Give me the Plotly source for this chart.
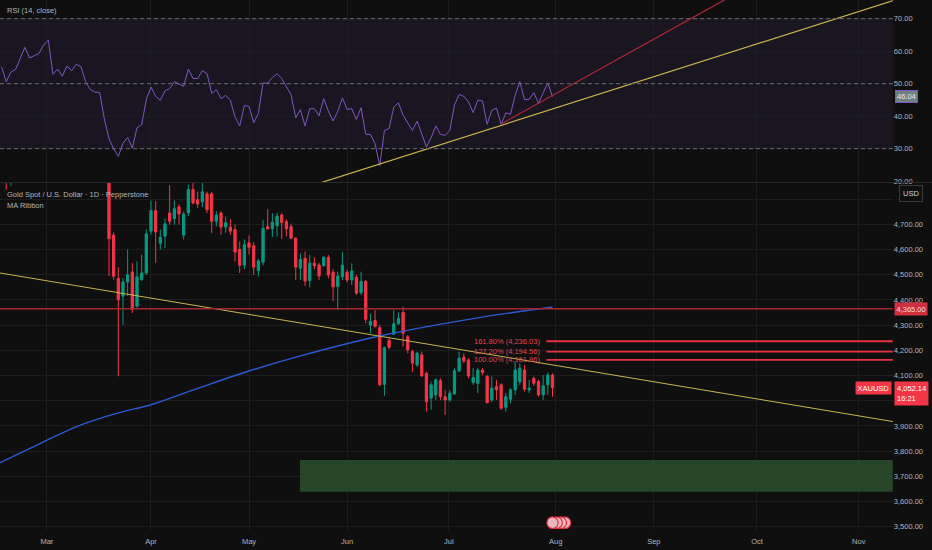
import plotly.graph_objects as go
from plotly.subplots import make_subplots

# bar index of each candle (day number from the left edge of the chart)
bar_idx = [1, 2] + list(range(23, 119))

opens = [4920, 4872,
         4945, 4657, 4485, 4415, 4471, 4511, 4375, 4481, 4507, 4673,
         4754, 4625, 4653, 4745, 4723, 4769, 4657, 4745, 4838, 4798,
         4789, 4821, 4821, 4712, 4745, 4689, 4689, 4679, 4600, 4538,
         4626, 4615, 4516, 4550, 4691, 4682, 4694, 4737, 4711, 4691,
         4645, 4526, 4565, 4477, 4546, 4539, 4536, 4569, 4510, 4453,
         4492, 4510, 4479, 4490, 4429, 4473, 4300, 4318, 4290, 4065,
         4240, 4264, 4305, 4350, 4254, 4195, 4142, 4182, 4109, 4010,
         4023, 4080, 4016, 4003, 4027, 4118, 4173, 4162, 4072, 4069,
         4122, 4096, 4003, 4056, 4063, 3974, 4006, 4043, 4076, 4122,
         4043, 4089, 4076, 4023, 4063, 4102]
highs = [4945, 4930,
         4960, 4668, 4530, 4487, 4600, 4547, 4553, 4580, 4680, 4794,
         4792, 4679, 4723, 4855, 4794, 4780, 4751, 4858, 4868, 4830,
         4868, 4830, 4829, 4752, 4752, 4732, 4721, 4699, 4632, 4640,
         4656, 4630, 4563, 4717, 4760, 4744, 4744, 4744, 4720, 4703,
         4649, 4585, 4592, 4579, 4569, 4548, 4574, 4579, 4522, 4512,
         4590, 4520, 4545, 4500, 4512, 4479, 4345, 4360, 4300, 4215,
         4248, 4360, 4350, 4373, 4261, 4202, 4195, 4195, 4115, 4076,
         4089, 4089, 4043, 4043, 4129, 4195, 4188, 4169, 4129, 4129,
         4129, 4102, 4096, 4083, 4069, 4030, 4050, 4155, 4149, 4142,
         4083, 4096, 4083, 4102, 4112, 4109]
lows = [4838, 4852,
        4495, 4480, 4097, 4302, 4416, 4348, 4370, 4475, 4500, 4659,
        4547, 4600, 4606, 4699, 4699, 4699, 4640, 4733, 4779, 4765,
        4768, 4745, 4665, 4692, 4659, 4666, 4659, 4553, 4507, 4522,
        4581, 4499, 4493, 4537, 4680, 4650, 4652, 4641, 4652, 4641,
        4479, 4479, 4455, 4450, 4522, 4479, 4532, 4486, 4396, 4360,
        4479, 4470, 4460, 4420, 4420, 4307, 4268, 4290, 4058, 4020,
        4205, 4261, 4301, 4215, 4188, 4115, 4135, 4096, 3957, 3964,
        4003, 4003, 3944, 3996, 4023, 4115, 4149, 4089, 4063, 4030,
        4102, 3990, 3996, 4003, 3964, 3957, 3990, 4023, 4063, 4036,
        4030, 4059, 4016, 4003, 4023, 4016]
closes = [4870, 4905,
          4643, 4494, 4401, 4471, 4500, 4362, 4492, 4507, 4662, 4754,
          4670, 4649, 4702, 4712, 4762, 4741, 4741, 4838, 4785, 4781,
          4829, 4758, 4712, 4736, 4689, 4706, 4673, 4590, 4538, 4619,
          4609, 4530, 4555, 4684, 4682, 4709, 4733, 4707, 4682, 4645,
          4530, 4561, 4475, 4546, 4536, 4495, 4569, 4499, 4452, 4495,
          4538, 4479, 4515, 4427, 4473, 4323, 4315, 4295, 4063, 4211,
          4212, 4305, 4327, 4268, 4202, 4149, 4188, 4098, 3996, 4063,
          4083, 4016, 4003, 4030, 4119, 4169, 4158, 4098, 4092, 4122,
          4112, 3992, 4050, 4043, 3970, 4016, 4043, 4122, 4129, 4046,
          4050, 4069, 4023, 4059, 4102, 4052.14]

rsi = [55.2, 50.6, 53.6, 54.4, 57.8, 61.2, 57.9, 58.5, 59.3, 61.9,
       63.4, 52.9, 54.5, 52.3, 55.4, 54.0, 56.0, 55.2, 50.6, 48.2,
       47.4, 47.3, 39.2, 33.1, 30.0, 27.6, 31.7, 33.4, 30.2, 36.4,
       37.4, 45.1, 49.0, 46.1, 44.9, 47.8, 48.5, 50.6, 49.9, 49.2,
       54.5, 51.6, 51.6, 54.0, 53.1, 47.0, 48.2, 45.4, 46.4, 44.9,
       39.8, 37.0, 43.3, 43.0, 38.0, 40.8, 50.2, 50.2, 51.9, 53.1,
       51.6, 49.2, 46.6, 39.5, 42.0, 37.0, 42.3, 42.3, 40.1, 45.4,
       41.6, 38.5, 41.5, 45.6, 42.1, 42.3, 39.0, 42.6, 34.4, 34.4,
       31.5, 24.8, 35.6, 36.2, 42.8, 44.1, 40.3, 37.9, 35.6, 38.5,
       34.6, 30.5, 33.4, 37.0, 34.4, 34.1, 35.6, 43.4, 46.7, 46.1,
       44.4, 41.1, 44.9, 44.7, 37.5, 41.8, 42.5, 37.5, 41.0, 40.6,
       46.4, 50.6, 45.1, 45.2, 47.2, 43.9, 47.2, 50.2, 46.04]

# MA ribbon (long average) read at a few bars
ma_idx = [-1, 8, 17, 25, 32, 42, 52, 64, 81, 102, 118]
ma_val = [3748, 3828, 3904, 3952, 3984, 4049, 4112, 4178, 4257, 4329, 4372]

# drawings
trend_idx = [-1, 192]
trend_px = [4509, 3914]
rsi_yel_idx = [60, 195]
rsi_yel_val = [15.7, 77.4]
rsi_red_idx = [107, 160]
rsi_red_val = [37.6, 79.9]
level_main = 4365.00
fib_start = 116.7
fib_pct = ['161.80%', '127.20%', '100.00%']
fib_lvl = [4236.03, 4194.56, 4161.96]
zone_start = 63.9
zone_lo, zone_hi = 3639, 3765
last_price = 4052.14
last_rsi = 46.04

months = ['Mar', 'Apr', 'May', 'Jun', 'Jul', 'Aug', 'Sep', 'Oct', 'Nov']
month_idx = [9.7, 32.0, 53.0, 74.0, 95.8, 118.7, 139.7, 161.8, 183.6]
price_ticks = list(range(3500, 4900, 100))
rsi_ticks = [20, 30, 40, 50, 60, 70]

X_RANGE = [-0.34, 190.9]
BG = '#0f0f0f'
GRID = '#1d1d1d'
TXT = '#b2b5be'
FONT = 'Liberation Sans'
UP = '#089981'
DOWN = '#f23645'

fig = make_subplots(rows=2, cols=1, shared_xaxes=True, vertical_spacing=0.002)

# RSI panel
fig.add_shape(type='rect', xref='x domain', yref='y', x0=0, x1=1, y0=30, y1=70,
              fillcolor='rgba(126,87,194,0.1)', line_width=0, layer='below')
for lv in [70, 50, 30]:
    fig.add_shape(type='line', xref='x domain', yref='y', x0=0, x1=1, y0=lv, y1=lv,
                  line=dict(color='#6a6d78', width=1, dash='4px,3px'))
fig.add_trace(go.Scatter(x=list(range(len(rsi))), y=rsi, mode='lines',
                         line=dict(color='#7e57c2', width=1)), row=1, col=1)
fig.add_trace(go.Scatter(x=rsi_yel_idx, y=rsi_yel_val, mode='lines',
                         line=dict(color='#c9b34a', width=1.2)), row=1, col=1)
fig.add_trace(go.Scatter(x=rsi_red_idx, y=rsi_red_val, mode='lines',
                         line=dict(color='#b5263a', width=1.2)), row=1, col=1)

# price panel
fig.add_shape(type='rect', xref='x2', yref='y2', x0=zone_start, x1=X_RANGE[1],
              y0=zone_lo, y1=zone_hi, fillcolor='rgba(42,80,44,0.85)', line_width=0,
              layer='between')
fig.add_shape(type='line', xref='x2 domain', yref='y2', x0=0, x1=1,
              y0=level_main, y1=level_main, line=dict(color='#a3282f', width=1.6))
for lv in fib_lvl:
    fig.add_shape(type='line', xref='x2', yref='y2', x0=fib_start, x1=X_RANGE[1],
                  y0=lv, y1=lv, line=dict(color='#e8323f', width=1.8))

fig.add_trace(go.Scatter(x=ma_idx, y=ma_val, mode='lines', line_shape='spline',
                         line=dict(color='#2a5bd7', width=1.4)), row=2, col=1)
fig.add_trace(go.Scatter(x=trend_idx, y=trend_px, mode='lines',
                         line=dict(color='#c9b34a', width=1)), row=2, col=1)
fig.add_trace(go.Candlestick(
    x=bar_idx, open=opens, high=highs, low=lows, close=closes,
    increasing=dict(line=dict(color=UP, width=1), fillcolor=UP),
    decreasing=dict(line=dict(color=DOWN, width=1), fillcolor=DOWN),
    whiskerwidth=0, hoverinfo='skip'), row=2, col=1)

# event icons under the last bar
for cx in [120.7, 119.8, 118.9, 118.0]:
    fig.add_shape(type='circle', xref='x2', yref='y2', x0=cx - 1.2, x1=cx + 1.2,
                  y0=3516 - 23, y1=3516 + 23, fillcolor='#e9b7bd',
                  line=dict(color='#e0303f', width=1.2))

# separator between panes
fig.add_shape(type='line', xref='paper', yref='paper', x0=0, x1=1, y0=0.6556, y1=0.6556,
              line=dict(color='#2a2a2a', width=1))

ann = []
ann.append(dict(text='RSI (14, close)', xref='paper', yref='paper', x=0.005, y=0.981,
                xanchor='left', yanchor='middle', showarrow=False,
                font=dict(size=7.5, color=TXT, family=FONT)))
ann.append(dict(text='Gold Spot / U.S. Dollar · 1D · Pepperstone', xref='paper', yref='paper',
                x=0.005, y=0.633, xanchor='left', yanchor='middle', showarrow=False,
                font=dict(size=7.5, color=TXT, family=FONT)))
ann.append(dict(text='MA Ribbon', xref='paper', yref='paper', x=0.005, y=0.612,
                xanchor='left', yanchor='middle', showarrow=False,
                font=dict(size=7.5, color=TXT, family=FONT)))
for p, lv in zip(fib_pct, fib_lvl):
    ann.append(dict(text=f'{p} ({lv:,.2f})', xref='x2', yref='y2', x=fib_start - 1,
                    y=lv, xanchor='right', yanchor='middle', showarrow=False,
                    font=dict(size=7.5, color='#e0454f', family=FONT)))
ann.append(dict(text='USD', xref='paper', yref='paper', x=0.977, y=0.634,
                xanchor='center', yanchor='middle', showarrow=False,
                bgcolor=BG, bordercolor='#3a3a3a', borderwidth=1, borderpad=3,
                font=dict(size=7.5, color='#d1d4dc', family=FONT)))
ann.append(dict(text=f'{level_main:,.2f}', xref='paper', yref='y2', x=0.959, y=level_main,
                xanchor='left', yanchor='middle', showarrow=False,
                bgcolor='#d0303e', borderpad=1.5,
                font=dict(size=7.5, color='#f8dde0', family=FONT)))
ann.append(dict(text='XAUUSD', xref='paper', yref='y2', x=0.957, y=last_price,
                xanchor='right', yanchor='middle', showarrow=False,
                bgcolor=DOWN, borderpad=1.5,
                font=dict(size=7.5, color='#ffffff', family=FONT)))
ann.append(dict(text=f'{last_price:,.2f}<br>16:21', xref='paper', yref='y2', x=0.959,
                y=last_price, xanchor='left', yanchor='top', yshift=7, showarrow=False,
                bgcolor=DOWN, borderpad=2, align='left',
                font=dict(size=7.5, color='#ffffff', family=FONT)))
ann.append(dict(text=f'{last_rsi:.2f}', xref='paper', yref='y', x=0.960, y=last_rsi,
                xanchor='left', yanchor='middle', showarrow=False,
                bgcolor='#6d8283', bordercolor='#7e57c2', borderwidth=1, borderpad=1,
                font=dict(size=7.5, color='#f3e3ef', family=FONT)))

axis_x = dict(range=X_RANGE, domain=[0, 0.958], tickvals=month_idx, ticktext=months,
              showgrid=True, gridcolor=GRID, gridwidth=1, zeroline=False,
              showline=False, ticks='', tickfont=dict(size=7.5, color=TXT, family=FONT))

fig.update_layout(
    width=932, height=550,
    margin=dict(l=0, r=0, t=0, b=20),
    paper_bgcolor=BG, plot_bgcolor=BG,
    showlegend=False,
    annotations=ann,
    xaxis=dict(axis_x, showticklabels=False),
    xaxis2=dict(axis_x, showticklabels=True, ticklabelstandoff=5,
                rangeslider=dict(visible=False)),
    yaxis=dict(domain=[0.6566, 1], range=[19.75, 75.75], side='right',
               tickvals=rsi_ticks, ticktext=[f'{v:.2f}' for v in rsi_ticks],
               showgrid=True, gridcolor=GRID, zeroline=False, ticks='',
               tickfont=dict(size=7.5, color=TXT, family=FONT)),
    yaxis2=dict(domain=[0, 0.6547], range=[3487, 4864], side='right',
                tickvals=price_ticks,
                ticktext=['' if v in (4000, 4800) else f'{v:,.2f}' for v in price_ticks],
                showgrid=True, gridcolor=GRID, zeroline=False, ticks='',
                tickfont=dict(size=7.5, color=TXT, family=FONT)),
)

fig.write_html('out.html', config={'displayModeBar': False},
               post_script="document.body.style.margin='0';document.body.style.background='#0f0f0f';")
